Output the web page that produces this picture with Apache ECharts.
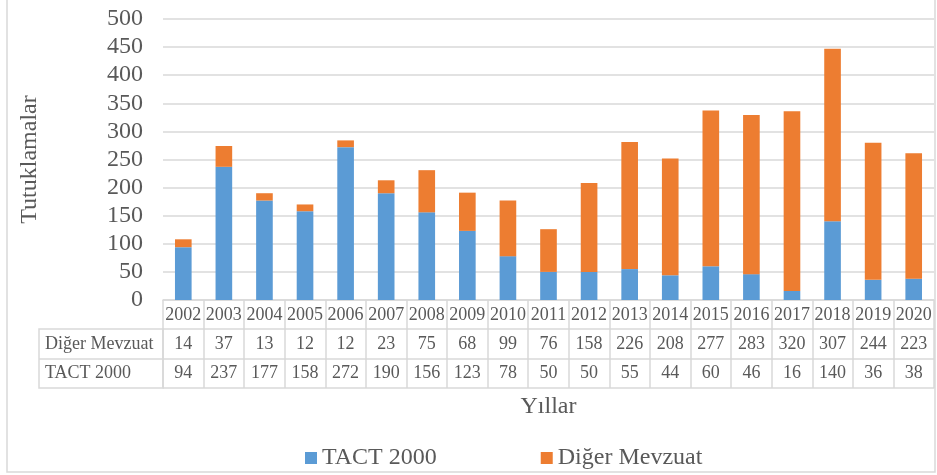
<!DOCTYPE html>
<html>
<head>
<meta charset="utf-8">
<script src="https://cdn.jsdelivr.net/npm/echarts@6/dist/echarts.min.js"></script>
<style>
html,body{margin:0;padding:0;background:#fff;}
#c{width:937px;height:475px;}
</style>
</head>
<body>
<div id="c"></div>
<script>
var years = ['2002','2003','2004','2005','2006','2007','2008','2009','2010','2011','2012','2013','2014','2015','2016','2017','2018','2019','2020'];
var tact = [94,237,177,158,272,190,156,123,78,50,50,55,44,60,46,16,140,36,38];
var diger = [14,37,13,12,12,23,75,68,99,76,158,226,208,277,283,320,307,244,223];
var yTicks = {min:0, max:500, interval:50};
var rowNames = ['Diğer Mevzuat','TACT 2000'];

var FONT = 'Liberation Serif, Times New Roman, serif';
var TXT = '#595959';
var LINE = '#d9d9d9';
var LW = 1.5;

var chart = echarts.init(document.getElementById('c'));

function tableAxis(idx, offset, values, margin, showLabel) {
  return {
    type:'category', data: years, gridIndex:0, position:'bottom', offset: offset,
    axisLine:{show:true, lineStyle:{color:LINE, width:LW}},
    axisTick:{show:false},
    axisLabel:{show:showLabel, interval:0, margin:margin, fontFamily:FONT, fontSize:18, color:TXT, lineHeight:20,
      formatter:function(v, i){ return values ? String(values[i]) : v; }},
    splitLine:{show:false}
  };
}

var xAxes = [
  {
    type:'category', data: years, position:'bottom',
    axisLine:{show:true, lineStyle:{color:LINE, width:LW}},
    axisTick:{show:true, interval:0, length:88, lineStyle:{color:LINE, width:LW}},
    axisLabel:{interval:0, margin:5, fontFamily:FONT, fontSize:18, color:TXT, lineHeight:20},
    splitLine:{show:false}
  },
  tableAxis(1, 29, diger, 5, true),
  tableAxis(2, 59, tact, 4.5, true),
  Object.assign(tableAxis(3, 88, null, 5, false), {
    name:'Yıllar', nameLocation:'middle', nameGap:6,
    nameTextStyle:{fontFamily:FONT, fontSize:24, color:TXT, lineHeight:26, verticalAlign:'top'}
  })
];

var option = {
  animation:false,
  color:['#5b9bd5','#ed7d31'],
  grid:{left:163, right:3, top:19, bottom:175, containLabel:false},
  legend:{
    left:300, top:441, itemWidth:12, itemHeight:12, itemGap:104,
    icon:'rect',
    textStyle:{fontFamily:FONT, fontSize:24, color:TXT},
    data:['TACT 2000','Diğer Mevzuat']
  },
  xAxis: xAxes,
  yAxis:{
    type:'value', min:yTicks.min, max:yTicks.max, interval:yTicks.interval,
    name:'Tutuklamalar', nameLocation:'middle', nameGap:121, nameRotate:90,
    nameTextStyle:{fontFamily:FONT, fontSize:24, color:TXT},
    axisLine:{show:false}, axisTick:{show:false},
    axisLabel:{margin:20, fontFamily:FONT, fontSize:24, color:TXT},
    splitLine:{lineStyle:{color:LINE, width:LW}}
  },
  series:[
    {name:'TACT 2000', type:'bar', stack:'s', data:tact, barWidth:'41%', xAxisIndex:0},
    {name:'Diğer Mevzuat', type:'bar', stack:'s', data:diger, barWidth:'41%', xAxisIndex:0}
  ]
};
chart.setOption(option);

// Table label column and outer frame
var g = chart.getModel().getComponent('grid').coordinateSystem.getRect();
var baseY = g.y + g.height;
var colLeft = 39;
chart.setOption({
  graphic:[
    {type:'rect', shape:{x:7, y:-1, width:928, height:473}, style:{fill:'none', stroke:LINE, lineWidth:1.5}, silent:true},
    {type:'rect', shape:{x:colLeft, y:baseY+29, width:g.x-colLeft, height:59}, style:{fill:'none', stroke:LINE, lineWidth:LW}, silent:true},
    {type:'line', shape:{x1:colLeft, y1:baseY+59, x2:g.x, y2:baseY+59}, style:{stroke:LINE, lineWidth:LW}, silent:true},
    {type:'text', x:45, y:baseY+44, style:{text:rowNames[0], fontFamily:FONT, fontSize:18, fill:TXT, verticalAlign:'middle', align:'left'}, silent:true},
    {type:'text', x:45, y:baseY+73.5, style:{text:rowNames[1], fontFamily:FONT, fontSize:18, fill:TXT, verticalAlign:'middle', align:'left'}, silent:true}
  ]
});
</script>
</body>
</html>
